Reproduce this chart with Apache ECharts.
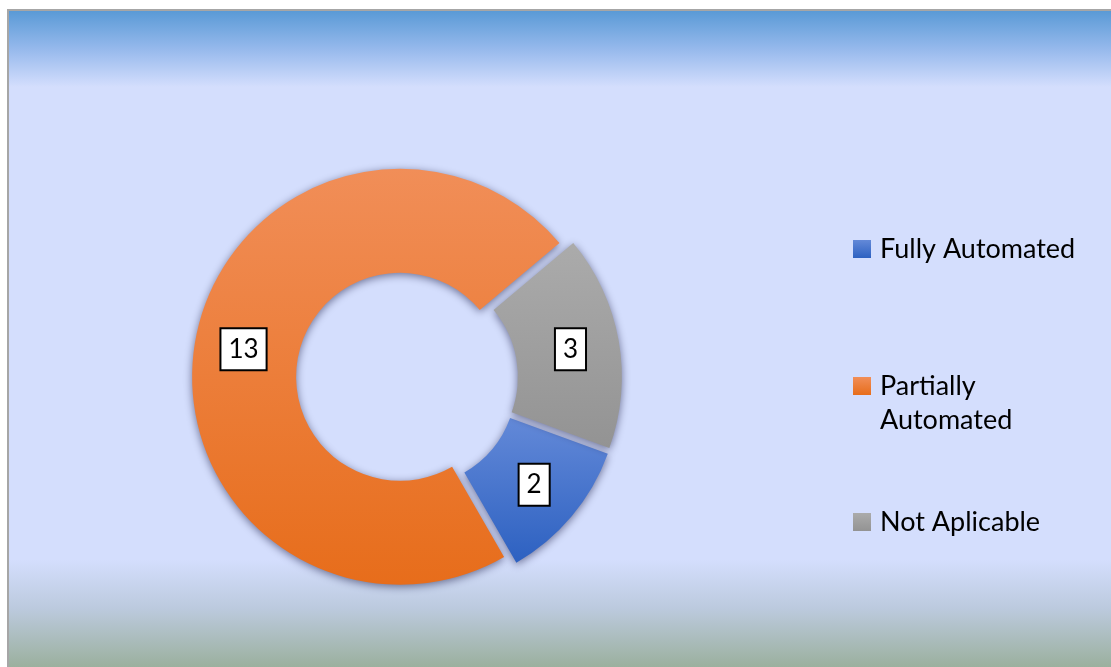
<!DOCTYPE html>
<html>
<head>
<meta charset="utf-8">
<style>
  html, body { margin: 0; padding: 0; background: #ffffff; }
  #chart { width: 1111px; height: 667px; }
</style>
<script src="https://cdn.jsdelivr.net/npm/echarts@6/dist/echarts.min.js"></script>
</head>
<body>
<div id="chart"></div>
<script>
// Automation status of the test cases
const categories = ['Fully Automated', 'Partially Automated', 'Not Aplicable'];
const counts = [2, 13, 3];

// top/bottom colour of each slice's vertical gradient
const sliceColors = [
  ['#6389d8', '#2d61c1'],
  ['#f18e58', '#e76d1b'],
  ['#ababab', '#939393']
];

// icon centre of each legend row
const legendRowCenters = [249, 386, 522];

const FONT = 'Lato, "Noto Sans", sans-serif';
const LINE_H = 34;

function grad(c) {
  return new echarts.graphic.LinearGradient(0, 0, 0, 1, [
    { offset: 0, color: c[0] },
    { offset: 1, color: c[1] }
  ]);
}

const chart = echarts.init(document.getElementById('chart'), null, { renderer: 'canvas' });

const pieData = categories.map((name, i) => ({
  name: name,
  value: counts[i],
  selected: true,
  itemStyle: { color: grad(sliceColors[i]) }
}));

// one legend block per row; the long name wraps onto two lines and gets an
// empty leading line so its icon sits level with the first text line
const legends = categories.map((name, i) => {
  const twoLine = name === 'Partially Automated';
  return {
    show: true,
    orient: 'vertical',
    left: 853,
    top: twoLine ? legendRowCenters[i] - (LINE_H * 3) / 2 : legendRowCenters[i] - LINE_H / 2,
    padding: 0,
    itemWidth: 18,
    itemHeight: 18,
    itemGap: 0,
    icon: 'rect',
    selectedMode: false,
    formatter: (n) => (twoLine ? '\n' + n : n),
    data: [{ name: name, itemStyle: { color: grad(sliceColors[i]) } }],
    textStyle: {
      fontFamily: FONT,
      fontSize: 27,
      color: '#000000',
      lineHeight: LINE_H,
      width: 215,
      overflow: 'break',
      padding: [0, 0, 0, 4]
    }
  };
});

chart.setOption({
  animation: false,
  graphic: [
    // chart area
    {
      type: 'rect', z: -10, silent: true,
      shape: { x: 8, y: 10, width: 1110, height: 670 },
      style: { fill: '#d4defd', stroke: '#a6a6a6', lineWidth: 2 }
    },
    // blue band along the top
    {
      type: 'rect', z: -9, silent: true,
      shape: { x: 9, y: 11, width: 1110, height: 76 },
      style: {
        fill: new echarts.graphic.LinearGradient(0, 0, 0, 1, [
          { offset: 0, color: '#5a9ad6' },
          { offset: 0.5, color: '#96b9ec' },
          { offset: 1, color: '#d4defd' }
        ])
      }
    },
    // green-grey band along the bottom
    {
      type: 'rect', z: -9, silent: true,
      shape: { x: 9, y: 560, width: 1110, height: 107 },
      style: {
        fill: new echarts.graphic.LinearGradient(0, 0, 0, 1, [
          { offset: 0, color: '#d4defd' },
          { offset: 0.45, color: '#bccade' },
          { offset: 1, color: '#9bb09e' }
        ])
      }
    }
  ],
  legend: legends,
  series: [{
    type: 'pie',
    center: [407, 378],
    radius: [104, 208],
    startAngle: -20,
    clockwise: true,
    selectedMode: 'multiple',
    selectedOffset: 7,
    avoidLabelOverlap: false,
    emphasis: { disabled: true },
    itemStyle: {
      shadowBlur: 8,
      shadowColor: 'rgba(20, 20, 60, 0.55)',
      shadowOffsetX: 0,
      shadowOffsetY: 2,
      borderWidth: 0
    },
    label: {
      show: true,
      position: 'inside',
      formatter: '{c}',
      fontFamily: FONT,
      fontSize: 26,
      color: '#000000',
      backgroundColor: '#ffffff',
      borderColor: '#000000',
      borderWidth: 2,
      padding: [8, 7, 7, 7],
      lineHeight: 25
    },
    labelLine: { show: false },
    data: pieData
  }]
});
</script>
</body>
</html>
